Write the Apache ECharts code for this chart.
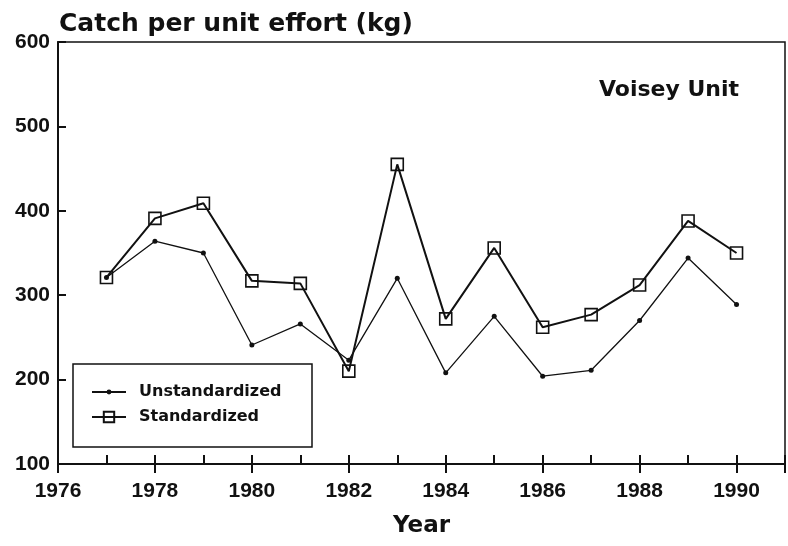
<!DOCTYPE html>
<html>
<head>
<meta charset="utf-8">
<script src="https://cdn.jsdelivr.net/npm/echarts@6/dist/echarts.min.js"></script>
<style>html,body{margin:0;padding:0;background:#fff;}#c{width:788px;height:546px;}</style>
</head>
<body>
<div id="c"></div>
<script>
const years = [1977,1978,1979,1980,1981,1982,1983,1984,1985,1986,1987,1988,1989,1990];
const unstandardized = [321,364,350,241,266,223,320,208,275,204,211,270,344,289];
const standardized = [321,391,409,317,314,210,455,272,356,262,277,312,388,350];
const yTicks = [100,200,300,400,500,600];
const xTickLabels = [1976,1978,1980,1982,1984,1986,1988,1990];

const chart = echarts.init(document.getElementById('c'), null, {renderer:'canvas'});
const tickFont = {fontFamily:'Liberation Sans', fontWeight:'bold', fontSize:21, color:'#111'};
const txtFont = 'DejaVu Sans';

chart.setOption({
  animation:false,
  backgroundColor:'#fff',
  grid:{left:58, top:42, right:1, bottom:82, show:true, borderColor:'#111', borderWidth:1.5, backgroundColor:'transparent'},
  xAxis:[{
    type:'value', min:1976, max:1991, interval:2, position:'bottom',
    axisLine:{lineStyle:{color:'#111', width:2}},
    axisTick:{inside:false, length:9, lineStyle:{color:'#111', width:2}},
    axisLabel:Object.assign({margin:17, formatter:v => xTickLabels.includes(v) ? String(v) : ''}, tickFont),
    splitLine:{show:false}
  },{
    type:'value', min:1976, max:1991, interval:1, position:'bottom',
    axisLine:{show:false},
    axisTick:{inside:true, length:9, lineStyle:{color:'#111', width:2}},
    axisLabel:{show:false},
    splitLine:{show:false}
  }],
  yAxis:{
    type:'value', min:100, max:600, interval:100,
    axisLine:{show:true, lineStyle:{color:'#111', width:2}},
    axisTick:{show:true, inside:true, length:8, lineStyle:{color:'#111', width:2}},
    axisLabel:Object.assign({margin:8, formatter:v => yTicks.includes(v) ? String(v) : ''}, tickFont),
    splitLine:{show:false}
  },
  legend:[{
    data:['Unstandardized'], left:91, top:384, padding:0, orient:'vertical',
    itemWidth:34, itemHeight:6,
    textStyle:{fontFamily:txtFont, fontWeight:'bold', fontSize:16, color:'#111', padding:[0,0,0,8]}
  },{
    data:['Standardized'], left:91, top:409, padding:0, orient:'vertical',
    itemWidth:34, itemHeight:13,
    textStyle:{fontFamily:txtFont, fontWeight:'bold', fontSize:16, color:'#111', padding:[0,0,0,8]}
  }],
  graphic:[
    {type:'text', left:59, top:12, style:{text:'Catch per unit effort (kg)', fontFamily:txtFont, fontWeight:'bold', fontSize:25, fill:'#111'}},
    {type:'text', left:599, top:79, style:{text:'Voisey Unit', fontFamily:txtFont, fontWeight:'bold', fontSize:22, fill:'#111'}},
    {type:'text', left:393, top:515, style:{text:'Year', fontFamily:txtFont, fontWeight:'bold', fontSize:23, fill:'#111'}},
    {type:'rect', shape:{x:73, y:364, width:239, height:83}, style:{fill:'none', stroke:'#111', lineWidth:1.5}, z:1}
  ],
  series:[{
    name:'Unstandardized', type:'line', xAxisIndex:0,
    data: years.map((y,i)=>[y, unstandardized[i]]),
    symbol:'circle', symbolSize:5,
    lineStyle:{color:'#111', width:1.3},
    itemStyle:{color:'#111'}, z:2
  },{
    name:'Standardized', type:'line', xAxisIndex:0,
    data: years.map((y,i)=>[y, standardized[i]]),
    symbol:'rect', symbolSize:12,
    lineStyle:{color:'#111', width:2},
    itemStyle:{color:'rgba(0,0,0,0)', borderColor:'#111', borderWidth:1.6}, z:3
  }]
});
</script>
</body>
</html>
